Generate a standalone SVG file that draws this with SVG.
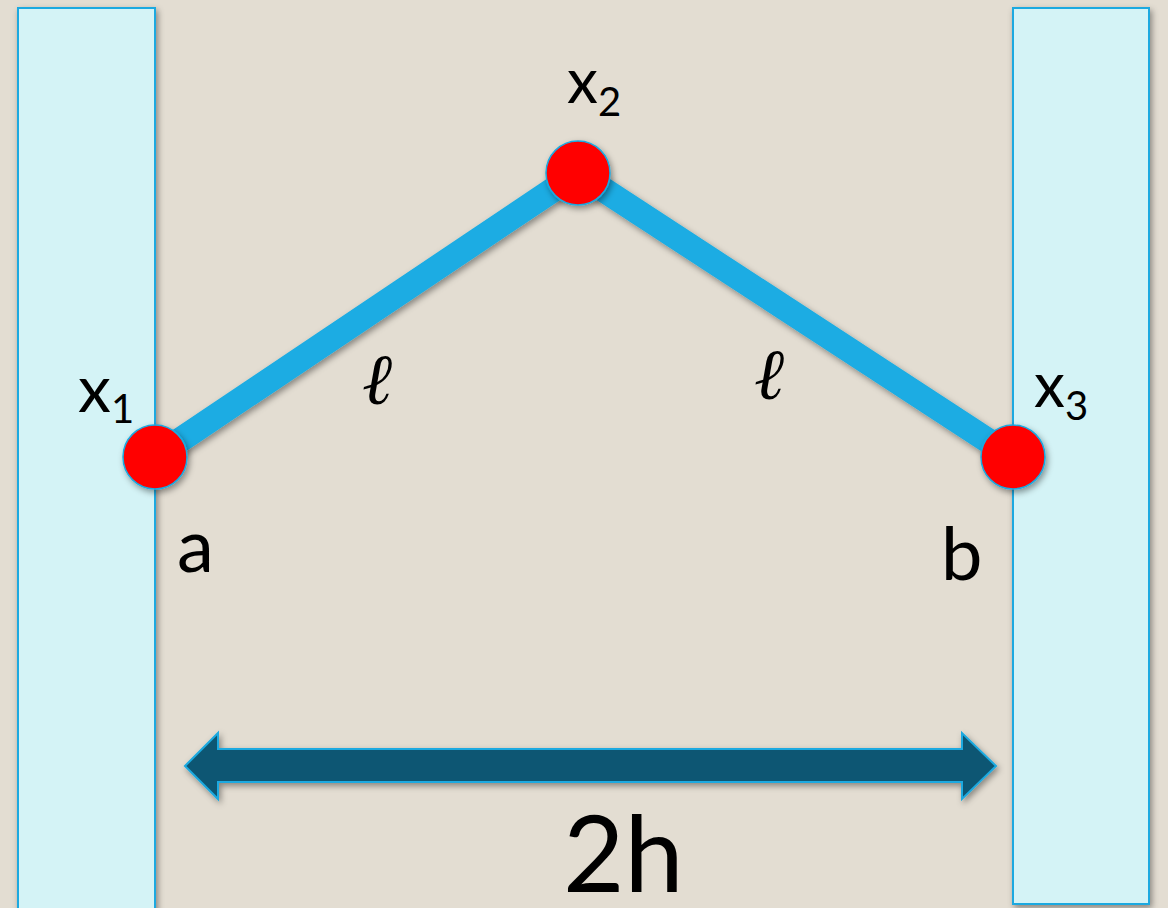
<svg xmlns="http://www.w3.org/2000/svg" width="1168" height="908" viewBox="0 0 1168 908">
<defs>
<filter id="sh" x="-20%" y="-20%" width="140%" height="140%">
<feDropShadow dx="2" dy="3" stdDeviation="3" flood-color="#000" flood-opacity="0.4"/>
</filter>
</defs>
<style>
.wall{fill:#d4f3f6;stroke:#1aa9e0;stroke-width:2}
.node{fill:#ff0000;stroke:#1aa9e0;stroke-width:1.5}
.link{fill:none;stroke:#1aace3;stroke-width:25}
.t{font-family:Lato,"Liberation Sans",sans-serif;fill:#000}
.ell{font-family:"DejaVu Serif","Liberation Serif",serif;font-style:italic;font-size:72px;fill:#000}
</style>
<rect x="0" y="0" width="1168" height="908" fill="#e3ddd2"/>
<g id="wall-left"><rect class="wall" x="18" y="8" width="137" height="910" filter="url(#sh)"/></g>
<g id="wall-right"><rect class="wall" x="1013" y="8" width="136" height="896" filter="url(#sh)"/></g>
<g id="connectors">
<polyline class="link" points="155,457 578,173 1013,457" filter="url(#sh)"/>
<path id="arrow-2h" d="M185,766 L218,733 L218,749 L962,749 L962,733 L996,766 L962,799 L962,782 L218,782 L218,799 Z" fill="#0f5773" stroke="#1aa9e0" stroke-width="2" filter="url(#sh)"/>
</g>
<g id="node-x1"><circle class="node" cx="155" cy="457" r="32" filter="url(#sh)"/></g>
<g id="node-x2"><circle class="node" cx="578" cy="173" r="32" filter="url(#sh)"/></g>
<g id="node-x3"><circle class="node" cx="1013" cy="457" r="32" filter="url(#sh)"/></g>
<g id="labels">
<text class="t" x="78" y="412" font-size="66">x<tspan font-size="40" dy="11">1</tspan></text>
<text class="t" x="567" y="103" font-size="62">x<tspan font-size="40" dy="13">2</tspan></text>
<text class="t" x="1034" y="407" font-size="62">x<tspan font-size="40" dy="13">3</tspan></text>
<text class="t" x="177" y="572" font-size="74">a</text>
<text class="t" x="941" y="580" font-size="74">b</text>
<text class="t" x="563" y="892" font-size="106">2h</text>
<text class="ell" x="362" y="404">ℓ</text>
<text class="ell" x="754" y="399">ℓ</text>
</g>
</svg>
